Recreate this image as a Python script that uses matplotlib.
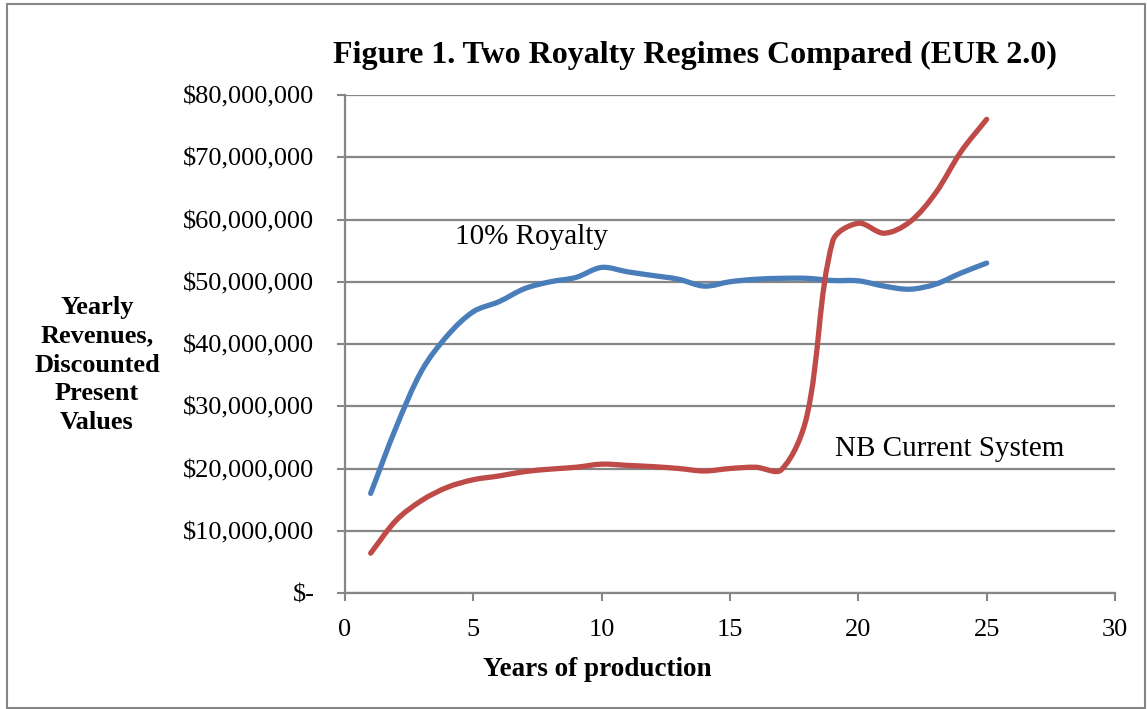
import matplotlib
matplotlib.use("Agg")
import matplotlib.pyplot as plt
from matplotlib.path import Path
from matplotlib.patches import PathPatch, Rectangle
import numpy as np

plt.rcParams['font.family'] = ['Liberation Serif', 'DejaVu Serif']

years = [1, 2, 3, 4, 5, 6, 7, 8, 9, 10, 11, 12, 13, 14, 15, 16, 17, 18, 19, 20, 21, 22, 23, 24, 25]
royalty_10 = [16.0, 26.7, 35.8, 41.4, 45.2, 46.8, 48.9, 50.0, 50.7, 52.3, 51.6, 51.0, 50.4, 49.3, 50.0,
              50.4, 50.55, 50.55, 50.2, 50.15, 49.3, 48.8, 49.6, 51.4, 53.0]
nb_current = [6.4, 11.7, 14.9, 17.0, 18.2, 18.8, 19.5, 19.9, 20.2, 20.7, 20.5, 20.3, 20.0, 19.6, 20.0,
              20.2, 19.8, 28.5, 56.5, 59.4, 57.8, 59.6, 64.2, 70.9, 76.1]
scale = 1_000_000
y_ticks = [0, 10, 20, 30, 40, 50, 60, 70, 80]
y_tick_labels = ['$-', '$10,000,000', '$20,000,000', '$30,000,000', '$40,000,000',
                 '$50,000,000', '$60,000,000', '$70,000,000', '$80,000,000']
x_ticks = [0, 5, 10, 15, 20, 25, 30]

W, H = 1147, 709
fig = plt.figure(figsize=(W / 100, H / 100), dpi=100)
ax = fig.add_axes([345 / W, 1 - 593 / H, (1115 - 345) / W, (593 - 95) / H])

grid_col = '#868686'

ax.set_xlim(0, 30)
ax.set_ylim(0, 80 * scale)


def smooth_path(xs, ys):
    # Excel-style smoothed line: cubic Bezier through the points, with control
    # points weighted by on-screen segment lengths
    pts = ax.transData.transform(np.column_stack([xs, ys]))
    n = len(pts)
    L = np.hypot(*np.diff(pts, axis=0).T)
    verts = [pts[0]]
    codes = [Path.MOVETO]
    for i in range(n - 1):
        p1, p2 = pts[i], pts[i + 1]
        if i > 0:
            d1 = pts[i + 1] - pts[i - 1]
            c1 = p1 + d1 * L[i] / (L[i - 1] + L[i]) / 3
        else:
            c1 = p1 + (p2 - p1) / 3
        if i + 2 < n:
            d2 = pts[i + 2] - pts[i]
            c2 = p2 - d2 * L[i] / (L[i] + L[i + 1]) / 3
        else:
            c2 = p2 - (p2 - p1) / 3
        verts += [c1, c2, p2]
        codes += [Path.CURVE4] * 3
    verts = ax.transData.inverted().transform(np.array(verts))
    return Path(verts, codes)


for series, col in [(royalty_10, '#4A7EBB'), (nb_current, '#BE4B48')]:
    vals = [v * scale for v in series]
    p = smooth_path(years, vals)
    ax.add_patch(PathPatch(p, facecolor='none', edgecolor=col, lw=3.8,
                           capstyle='round', joinstyle='round', zorder=3))

ax.set_xticks(x_ticks)
ax.set_xticklabels([str(t) for t in x_ticks])
ax.set_yticks([t * scale for t in y_ticks])
ax.set_yticklabels(y_tick_labels)
ax.tick_params(axis='both', labelsize=19, color=grid_col, width=1.5, length=6, direction='out')
ax.tick_params(axis='y', pad=16)
ax.tick_params(axis='x', pad=13)
ax.yaxis.grid(True, color=grid_col, lw=1.6)
ax.set_axisbelow(True)
for s in ['top', 'right']:
    ax.spines[s].set_visible(False)
for s in ['left', 'bottom']:
    ax.spines[s].set_color(grid_col)
    ax.spines[s].set_linewidth(1.6)

ax.text(4.3, 57.2 * scale, '10% Royalty', fontsize=21, ha='left', va='center')
ax.text(19.1, 23.1 * scale, 'NB Current System', fontsize=21, ha='left', va='center')

fig.text(695 / W, 1 - 55 / H, 'Figure 1. Two Royalty Regimes Compared (EUR 2.0)',
         fontsize=23, fontweight='bold', ha='center', va='center')
fig.text(97 / W, 1 - 365 / H, 'Yearly\nRevenues,\nDiscounted\nPresent\nValues',
         fontsize=19, fontweight='bold', ha='center', va='center', linespacing=1.32)
fig.text(597 / W, 1 - 670 / H, 'Years of production', fontsize=19.5, fontweight='bold',
         ha='center', va='center')

fig.patches.append(Rectangle((7 / W, 1 / H), (W - 9) / W, (H - 5) / H, transform=fig.transFigure,
                             facecolor='none', edgecolor='#868686', lw=1.5))

fig.savefig('out.png', dpi=100)
